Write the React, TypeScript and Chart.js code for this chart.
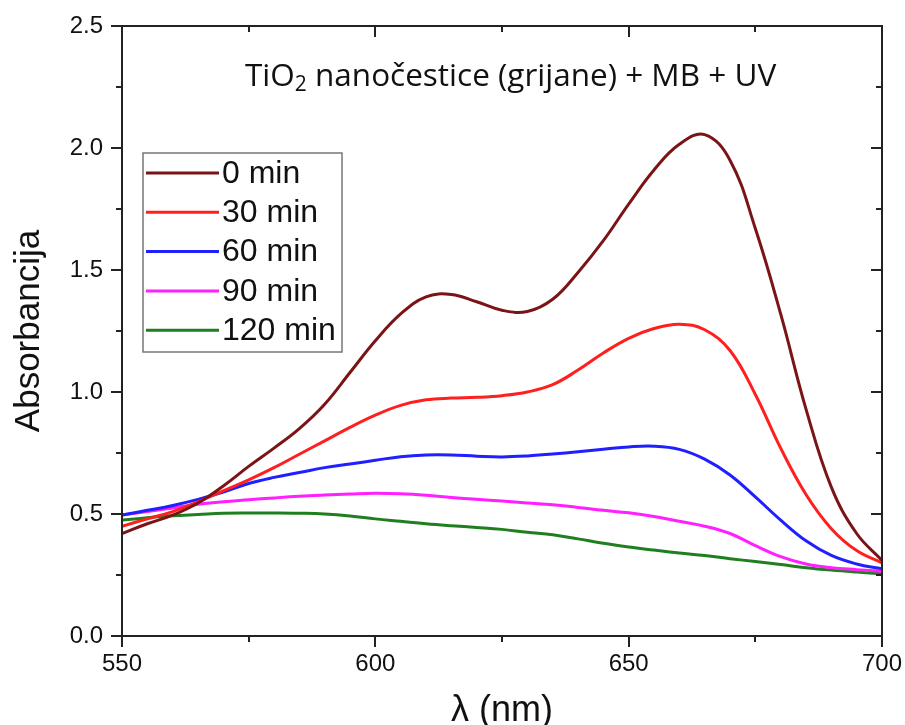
import React, { useEffect, useRef } from "react";
import { Chart, registerables } from "chart.js";

Chart.register(...registerables);

// ---- data ----
const wavelengths = [
  550, 555, 560, 565, 570, 575, 580, 585, 590, 595, 600, 605, 610, 615, 620, 625,
  630, 635, 640, 645, 650, 655, 660, 665, 670, 675, 680, 685, 690, 695, 700,
];
const abs0 = [
  0.42, 0.46, 0.495, 0.545, 0.615, 0.695, 0.77, 0.85, 0.95, 1.08, 1.21, 1.32, 1.39, 1.40, 1.37, 1.335,
  1.33, 1.38, 1.49, 1.62, 1.77, 1.91, 2.015, 2.055, 1.95, 1.67, 1.32, 0.93, 0.61, 0.42, 0.31,
];
const abs30 = [
  0.45, 0.48, 0.51, 0.55, 0.595, 0.64, 0.69, 0.745, 0.80, 0.855, 0.905, 0.945, 0.968, 0.975, 0.978, 0.985,
  1.0, 1.03, 1.09, 1.16, 1.22, 1.26, 1.278, 1.255, 1.17, 0.99, 0.77, 0.58, 0.44, 0.35, 0.30,
];
const abs60 = [
  0.496, 0.515, 0.535, 0.56, 0.59, 0.625, 0.65, 0.67, 0.69, 0.705, 0.72, 0.735, 0.742, 0.742, 0.737, 0.734,
  0.738, 0.746, 0.755, 0.765, 0.775, 0.778, 0.765, 0.725, 0.66, 0.57, 0.475, 0.39, 0.33, 0.295, 0.275,
];
const abs90 = [
  0.496, 0.51, 0.525, 0.54, 0.55, 0.558, 0.566, 0.573, 0.578, 0.582, 0.585, 0.583, 0.577, 0.568, 0.56, 0.553,
  0.545, 0.538, 0.527, 0.515, 0.505, 0.49, 0.47, 0.45, 0.42, 0.37, 0.325, 0.295, 0.28, 0.272, 0.265,
];
const abs120 = [
  0.475, 0.485, 0.493, 0.498, 0.503, 0.504, 0.504, 0.503, 0.5, 0.492, 0.48, 0.47, 0.46, 0.452, 0.445, 0.437,
  0.425, 0.415, 0.398, 0.38, 0.365, 0.352, 0.34, 0.33, 0.317, 0.305, 0.293, 0.28, 0.27, 0.262, 0.255,
];
const seriesLabels = ["0 min", "30 min", "60 min", "90 min", "120 min"];
const seriesValues = [abs0, abs30, abs60, abs90, abs120];
const seriesColors = ["#7B1416", "#FF1F1F", "#1F1FFF", "#FF1FFF", "#1F7F1F"];

const xMin = 550;
const xMax = 700;
const xMajorStep = 50;
const xMinorStep = 25;
const yMin = 0;
const yMax = 2.5;
const yMajorStep = 0.5;
const yMinorStep = 0.25;

const xTitle = "λ (nm)";
const yTitle = "Absorbancija";
const noteMain = "TiO";
const noteSub = "2";
const noteRest = " nanočestice (grijane) + MB + UV";

const SANS = "'Liberation Sans', Arial, sans-serif";
const NOTE_FONT = "'Open Sans', 'Noto Sans', sans-serif";

const decorPlugin = {
  id: "decor",
  afterDraw(chart: any) {
    const { ctx, chartArea } = chart;
    const { left, right, top, bottom } = chartArea;
    const xs = chart.scales.x;
    const ys = chart.scales.y;
    const MAJ = 11;
    const MIN = 6;
    ctx.save();
    ctx.strokeStyle = "#222";
    ctx.lineWidth = 2;
    ctx.strokeRect(left, top, right - left, bottom - top);
    ctx.beginPath();
    for (let v = xMin; v <= xMax + 1e-9; v += xMinorStep) {
      const px = Math.round(xs.getPixelForValue(v));
      const major = Math.abs((v - xMin) % xMajorStep) < 1e-6;
      const len = major ? MAJ : MIN;
      ctx.moveTo(px, bottom);
      ctx.lineTo(px, bottom + len);
      ctx.moveTo(px, top);
      ctx.lineTo(px, top + len);
    }
    for (let v = yMin; v <= yMax + 1e-9; v += yMinorStep) {
      const py = Math.round(ys.getPixelForValue(v));
      const r = (v - yMin) / yMajorStep;
      const major = Math.abs(r - Math.round(r)) < 1e-6;
      const len = major ? MAJ : MIN;
      ctx.moveTo(left, py);
      ctx.lineTo(left - len, py);
      ctx.moveTo(right, py);
      ctx.lineTo(right - len, py);
    }
    ctx.stroke();

    // axis titles
    ctx.fillStyle = "#111";
    ctx.font = `36px ${SANS}`;
    ctx.textAlign = "center";
    ctx.textBaseline = "alphabetic";
    ctx.fillText(xTitle, (left + right) / 2, 721);
    ctx.save();
    ctx.translate(39, (top + bottom) / 2);
    ctx.rotate(-Math.PI / 2);
    ctx.font = `35px ${SANS}`;
    ctx.fillText(yTitle, 0, 0);
    ctx.restore();

    // annotation
    ctx.textAlign = "left";
    ctx.textBaseline = "alphabetic";
    let nx = 245;
    const ny = 86;
    ctx.font = `31.5px ${NOTE_FONT}`;
    ctx.fillText(noteMain, nx, ny);
    nx += ctx.measureText(noteMain).width;
    ctx.font = `21px ${NOTE_FONT}`;
    ctx.fillText(noteSub, nx, ny + 5);
    nx += ctx.measureText(noteSub).width;
    ctx.font = `31.5px ${NOTE_FONT}`;
    ctx.fillText(noteRest, nx, ny);

    // legend
    const bx = 143, by = 153, bw = 199, bh = 199;
    ctx.fillStyle = "#fff";
    ctx.fillRect(bx, by, bw, bh);
    ctx.strokeStyle = "#777";
    ctx.lineWidth = 1.5;
    ctx.strokeRect(bx, by, bw, bh);
    ctx.font = `32px ${SANS}`;
    ctx.textBaseline = "middle";
    seriesLabels.forEach((lab, i) => {
      const ry = 173 + i * 39.3;
      ctx.strokeStyle = seriesColors[i];
      ctx.lineWidth = 3;
      ctx.beginPath();
      ctx.moveTo(146, ry);
      ctx.lineTo(219, ry);
      ctx.stroke();
      ctx.fillStyle = "#111";
      ctx.fillText(lab, 222, ry + 1);
    });
    ctx.restore();
  },
};

const zeroPad = (s: any) => {
  s.paddingLeft = 0;
  s.paddingRight = 0;
  s.paddingTop = 0;
  s.paddingBottom = 0;
};

export default function App() {
  const ref = useRef<HTMLCanvasElement>(null);
  useEffect(() => {
    if (!ref.current) return;
    const chart = new Chart(ref.current, {
      type: "line",
      data: {
        datasets: seriesLabels.map((lab, i) => ({
          label: lab,
          data: wavelengths.map((w, j) => ({ x: w, y: seriesValues[i][j] })),
          borderColor: seriesColors[i],
          backgroundColor: seriesColors[i],
          borderWidth: 3,
          pointRadius: 0,
          tension: 0.4,
          fill: false,
        })),
      },
      options: {
        animation: false,
        responsive: false,
        layout: { padding: { top: 26, right: 23, left: 0, bottom: 0 } },
        plugins: { legend: { display: false }, tooltip: { enabled: false } },
        scales: {
          x: {
            type: "linear",
            min: xMin,
            max: xMax,
            grid: { display: false, drawTicks: false },
            border: { display: false },
            ticks: {
              stepSize: xMajorStep,
              padding: 14,
              color: "#111",
              font: { family: SANS, size: 24 },
              maxRotation: 0,
            },
            afterFit: (s: any) => {
              s.height = 89;
              zeroPad(s);
            },
          },
          y: {
            min: yMin,
            max: yMax,
            grid: { display: false, drawTicks: false },
            border: { display: false },
            ticks: {
              stepSize: yMajorStep,
              padding: 19,
              color: "#111",
              font: { family: SANS, size: 24 },
              callback: (v: any) => Number(v).toFixed(1),
            },
            afterFit: (s: any) => {
              s.width = 122;
              zeroPad(s);
            },
          },
        },
      },
      plugins: [decorPlugin],
    });
    return () => chart.destroy();
  }, []);
  return (
    <div style={{ position: "absolute", left: 0, top: 0, width: 905, height: 725, background: "#fff" }}>
      <canvas ref={ref} width={905} height={725} style={{ display: "block" }} />
    </div>
  );
}
